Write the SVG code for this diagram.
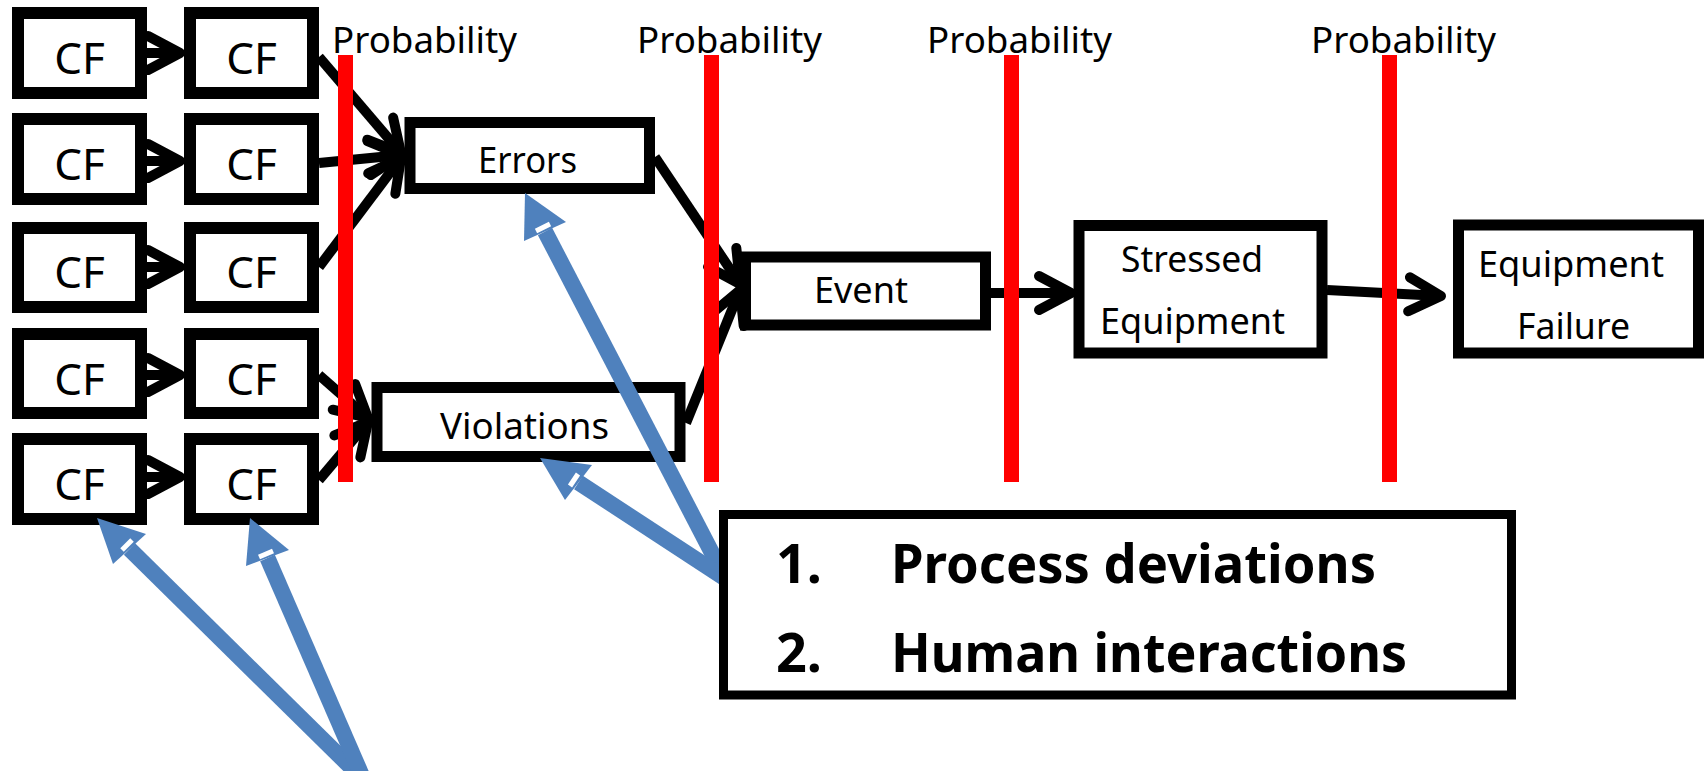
<svg xmlns="http://www.w3.org/2000/svg" width="1708" height="771" viewBox="0 0 1708 771">
<style>
.box{fill:#fff;stroke:#000;stroke-width:12}
.bx{fill:#fff;stroke:#000;stroke-width:11}
.cf{font-family:"Noto Sans","Open Sans",sans-serif;font-size:44px;text-anchor:middle;fill:#000}
.lbl{font-family:"Noto Sans","Open Sans",sans-serif;font-size:36px;fill:#000}
.con{stroke:#000;stroke-width:10;fill:none}
.red{fill:#ff0000}
.blue{stroke:#4f81bd;stroke-width:16;fill:none}
.bhead{fill:#4f81bd}
.notch{stroke:#fff;stroke-width:5}
.big{font-family:"Noto Sans","Open Sans",sans-serif;font-size:53px;font-weight:bold;fill:#000}
</style>
<defs>
<marker id="arr" markerUnits="userSpaceOnUse" markerWidth="80" markerHeight="80" viewBox="-40 -40 80 80" refX="0" refY="0" orient="auto" overflow="visible">
<path d="M-32,-17 L0,0 L-32,17" fill="none" stroke="#000" stroke-width="10" stroke-linecap="round" stroke-linejoin="round"/>
</marker>
</defs>

<g id="cf-1-1"><rect class="box" x="18" y="13" width="123" height="80"/><text class="cf" x="79.5" y="74">CF</text></g>
<g id="cf-1-2"><rect class="box" x="190" y="13" width="123" height="80"/><text class="cf" x="251.5" y="74">CF</text></g>
<g id="cf-2-1"><rect class="box" x="18" y="119" width="123" height="80"/><text class="cf" x="79.5" y="180">CF</text></g>
<g id="cf-2-2"><rect class="box" x="190" y="119" width="123" height="80"/><text class="cf" x="251.5" y="180">CF</text></g>
<g id="cf-3-1"><rect class="box" x="18" y="228" width="123" height="79"/><text class="cf" x="79.5" y="288">CF</text></g>
<g id="cf-3-2"><rect class="box" x="190" y="228" width="123" height="79"/><text class="cf" x="251.5" y="288">CF</text></g>
<g id="cf-4-1"><rect class="box" x="18" y="334" width="123" height="79"/><text class="cf" x="79.5" y="395">CF</text></g>
<g id="cf-4-2"><rect class="box" x="190" y="334" width="123" height="79"/><text class="cf" x="251.5" y="395">CF</text></g>
<g id="cf-5-1"><rect class="box" x="18" y="439" width="123" height="80"/><text class="cf" x="79.5" y="500">CF</text></g>
<g id="cf-5-2"><rect class="box" x="190" y="439" width="123" height="80"/><text class="cf" x="251.5" y="500">CF</text></g>

<g id="errors"><rect class="bx" x="410" y="122.5" width="239.5" height="66"/><text class="lbl" x="478" y="173" textLength="99" lengthAdjust="spacingAndGlyphs">Errors</text></g>
<g id="violations"><rect class="bx" x="377" y="387.5" width="303" height="69"/><text class="lbl" x="440" y="439" textLength="169" lengthAdjust="spacingAndGlyphs">Violations</text></g>
<g id="event"><rect class="bx" x="745.5" y="257" width="240" height="68"/><text class="lbl" x="814" y="303" textLength="94" lengthAdjust="spacingAndGlyphs">Event</text></g>
<g id="stressed"><rect class="bx" x="1079" y="225.5" width="243" height="127.5"/><text class="lbl" x="1121" y="272" textLength="142" lengthAdjust="spacingAndGlyphs">Stressed</text><text class="lbl" x="1100" y="334" textLength="185" lengthAdjust="spacingAndGlyphs">Equipment</text></g>
<g id="failure"><rect class="bx" x="1458.5" y="225" width="240" height="128"/><text class="lbl" x="1478" y="277" textLength="186" lengthAdjust="spacingAndGlyphs">Equipment</text><text class="lbl" x="1517" y="339" textLength="113" lengthAdjust="spacingAndGlyphs">Failure</text></g>

<g id="connectors">
<line class="con" x1="147" y1="53" x2="180" y2="53" marker-end="url(#arr)"/>
<line class="con" x1="147" y1="161" x2="180" y2="161" marker-end="url(#arr)"/>
<line class="con" x1="147" y1="267" x2="180" y2="267" marker-end="url(#arr)"/>
<line class="con" x1="147" y1="375" x2="180" y2="375" marker-end="url(#arr)"/>
<line class="con" x1="147" y1="477" x2="180" y2="477" marker-end="url(#arr)"/>
<line class="con" x1="319" y1="57" x2="401" y2="153" marker-end="url(#arr)"/>
<line class="con" x1="319" y1="163" x2="401" y2="155" marker-end="url(#arr)"/>
<line class="con" x1="319" y1="267" x2="401" y2="158" marker-end="url(#arr)"/>
<line class="con" x1="319" y1="375" x2="368" y2="418" marker-end="url(#arr)"/>
<line class="con" x1="319" y1="480" x2="368" y2="422" marker-end="url(#arr)"/>
<line class="con" x1="655" y1="157" x2="740" y2="284" marker-end="url(#arr)"/>
<line class="con" x1="686" y1="423" x2="740" y2="290" marker-end="url(#arr)"/>
<line class="con" x1="991" y1="293" x2="1071" y2="293" marker-end="url(#arr)"/>
<line class="con" x1="1327" y1="290" x2="1441" y2="296" marker-end="url(#arr)"/>
</g>

<g id="probability-lines">
<rect class="red" x="338" y="55" width="15" height="427"/>
<rect class="red" x="704" y="55" width="15" height="427"/>
<rect class="red" x="1004" y="55" width="15" height="427"/>
<rect class="red" x="1382" y="55" width="15" height="427"/>
<text class="lbl" x="332" y="53" textLength="185" lengthAdjust="spacingAndGlyphs">Probability</text>
<text class="lbl" x="637" y="53" textLength="185" lengthAdjust="spacingAndGlyphs">Probability</text>
<text class="lbl" x="927" y="53" textLength="185" lengthAdjust="spacingAndGlyphs">Probability</text>
<text class="lbl" x="1311" y="53" textLength="185" lengthAdjust="spacingAndGlyphs">Probability</text>
</g>

<g id="pointers">
<line class="blue" x1="545" y1="231.5" x2="724" y2="576"/>
<polygon class="bhead" points="525,193 524,241 566,222"/>
<line class="notch" x1="536" y1="231" x2="550" y2="224"/>
<line class="blue" x1="578.5" y1="482.5" x2="726" y2="579"/>
<polygon class="bhead" points="540,458 565,500 592,465"/>
<line class="notch" x1="570" y1="486" x2="578" y2="474"/>
<line class="blue" x1="129.5" y1="549" x2="369" y2="785"/>
<polygon class="bhead" points="97,518 113,564 146,534"/>
<line class="notch" x1="122" y1="550" x2="132" y2="540"/>
<line class="blue" x1="267.5" y1="558" x2="366" y2="785"/>
<polygon class="bhead" points="250,518 246,566 289,550"/>
<line class="notch" x1="259" y1="557" x2="273" y2="551"/>
</g>

<g id="causes">
<rect x="723.5" y="514.5" width="788" height="180.5" fill="#fff" stroke="#000" stroke-width="9"/>
<text class="big" x="776" y="583" textLength="46" lengthAdjust="spacingAndGlyphs">1.</text>
<text class="big" x="891" y="583" textLength="485" lengthAdjust="spacingAndGlyphs">Process deviations</text>
<text class="big" x="776" y="672" textLength="46" lengthAdjust="spacingAndGlyphs">2.</text>
<text class="big" x="891" y="672" textLength="516" lengthAdjust="spacingAndGlyphs">Human interactions</text>
</g>
</svg>
